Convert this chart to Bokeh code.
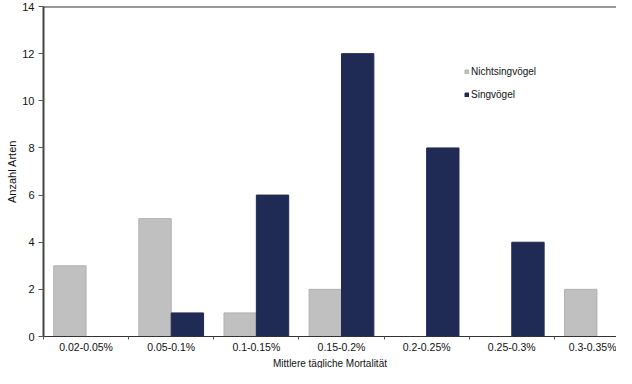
import numpy as np
from bokeh.plotting import figure
from bokeh.models import Range1d, FixedTicker, Legend, LegendItem, ColumnDataSource, Span, Title
from bokeh.embed import file_html
from bokeh.resources import INLINE

categories = ["0.02-0.05%", "0.05-0.1%", "0.1-0.15%", "0.15-0.2%", "0.2-0.25%", "0.25-0.3%", "0.3-0.35%"]
nichtsingvoegel = [3, 5, 1, 2, 0, 0, 2]
singvoegel = [0, 1, 6, 12, 8, 4, 0]
y_ticks = [0, 2, 4, 6, 8, 10, 12, 14]
x_title = "Mittlere tägliche Mortalität"
y_title = "Anzahl Arten"

centers = np.arange(len(categories)) + 0.5
bar_w = 0.38
off = 0.19

FONT = "Liberation Sans"
GRAY = "#C0C0C0"
NAVY = "#1F2A55"

p = figure(width=616, height=368, output_backend="svg", toolbar_location=None,
           x_range=Range1d(0, 6.73), y_range=Range1d(0, 14),
           min_border_left=43, min_border_top=6, min_border_right=0, min_border_bottom=0)
p.outline_line_color = None
p.xgrid.visible = False
p.ygrid.visible = False
p.background_fill_color = "white"

src_a = ColumnDataSource(dict(x=centers - off, top=nichtsingvoegel))
src_b = ColumnDataSource(dict(x=centers + off, top=singvoegel))
ra = p.vbar(x="x", top="top", width=bar_w, bottom=0, source=src_a,
            fill_color=GRAY, line_color="#B0B0B0", line_width=1)
rb = p.vbar(x="x", top="top", width=bar_w, bottom=0, source=src_b,
            fill_color=NAVY, line_color=NAVY, line_width=1)

# x axis
xa = p.xaxis[0]
xa.ticker = FixedTicker(ticks=list(centers), minor_ticks=list(np.arange(len(categories) + 1)))
xa.major_label_overrides = {float(c): lab for c, lab in zip(centers, categories)}
xa.major_tick_out = 0
xa.major_tick_in = 0
xa.minor_tick_out = 3
xa.minor_tick_in = 0
xa.minor_tick_line_color = "#555555"
xa.axis_line_color = "#333333"
xa.axis_line_width = 1
xa.major_label_text_font = FONT
xa.major_label_text_font_size = "10.5px"
xa.major_label_text_color = "#111111"
xa.major_label_standoff = 1

p.add_layout(Title(text=x_title, align="center", text_font=FONT, text_font_size="10px",
                   text_font_style="normal", text_color="#111111", standoff=0), "below")

# y axis
ya = p.yaxis[0]
ya.ticker = FixedTicker(ticks=y_ticks)
ya.minor_tick_line_color = None
ya.major_tick_out = 5
ya.major_tick_in = 0
ya.major_tick_line_color = "#555555"
ya.axis_line_color = "#444444"
ya.axis_line_width = 2
ya.major_label_text_font = FONT
ya.major_label_text_font_size = "11px"
ya.major_label_text_color = "#111111"
ya.major_label_standoff = 4
ya.axis_label = y_title
ya.axis_label_text_font = FONT
ya.axis_label_text_font_size = "11px"
ya.axis_label_text_font_style = "normal"
ya.axis_label_text_color = "#111111"
ya.axis_label_standoff = 1

p.add_layout(Span(location=14, dimension="width", line_color="#333333", line_width=2))

legend = Legend(items=[LegendItem(label="Nichtsingvögel", renderers=[ra]),
                       LegendItem(label="Singvögel", renderers=[rb])],
                location=(421, 236), orientation="vertical")
legend.glyph_width = 5
legend.glyph_height = 5
legend.label_text_font = FONT
legend.label_text_font_size = "10px"
legend.label_text_color = "#111111"
legend.label_standoff = 2
legend.spacing = 12
legend.padding = 0
legend.margin = 0
legend.border_line_color = None
legend.background_fill_alpha = 0
p.add_layout(legend, "center")

open("out.html", "w").write(file_html(p, INLINE))
